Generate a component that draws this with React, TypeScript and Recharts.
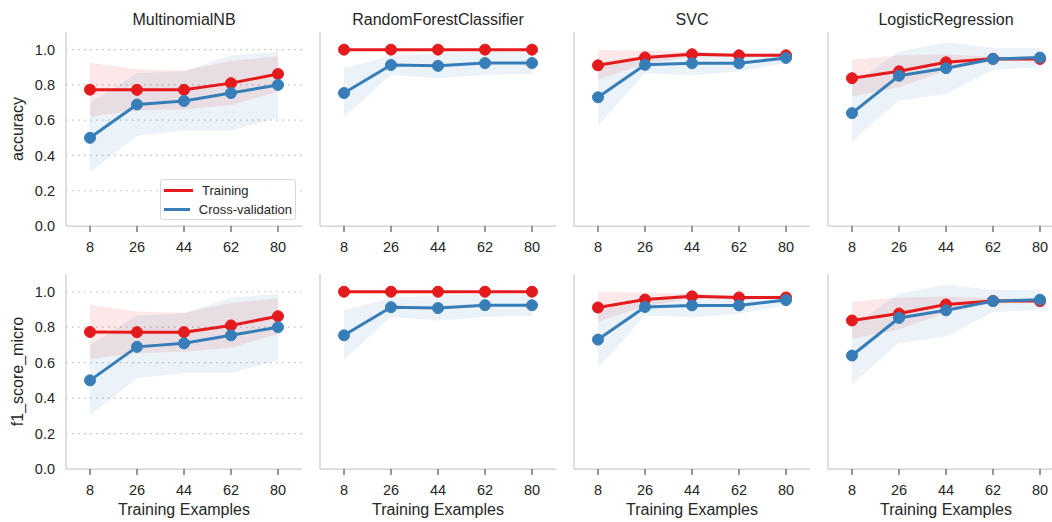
import { ComposedChart, Area, Line, XAxis, YAxis, CartesianGrid, Legend } from 'recharts';

const trainingSizes = ['8', '26', '44', '62', '80'];
const models = ['MultinomialNB', 'RandomForestClassifier', 'SVC', 'LogisticRegression'];
const metrics = ['accuracy', 'f1_score_micro'];
const yTicks = [0, 0.2, 0.4, 0.6, 0.8, 1.0];
const seriesNames = ['Training', 'Cross-validation'];

// MultinomialNB
const nbTrainMean = [0.773, 0.772, 0.772, 0.81, 0.862];
const nbTrainLow = [0.62, 0.655, 0.662, 0.684, 0.762];
const nbTrainHigh = [0.926, 0.889, 0.882, 0.936, 0.962];
const nbCvMean = [0.5, 0.689, 0.709, 0.754, 0.8];
const nbCvLow = [0.305, 0.512, 0.541, 0.541, 0.613];
const nbCvHigh = [0.697, 0.866, 0.877, 0.967, 0.987];

// RandomForestClassifier
const rfTrainMean = [1.0, 1.0, 1.0, 1.0, 1.0];
const rfTrainLow = [1.0, 1.0, 1.0, 1.0, 1.0];
const rfTrainHigh = [1.0, 1.0, 1.0, 1.0, 1.0];
const rfCvMean = [0.754, 0.913, 0.908, 0.924, 0.924];
const rfCvLow = [0.616, 0.858, 0.838, 0.858, 0.862];
const rfCvHigh = [0.894, 0.966, 0.978, 0.989, 0.986];

// SVC
const svcTrainMean = [0.911, 0.956, 0.974, 0.968, 0.968];
const svcTrainLow = [0.83, 0.918, 0.96, 0.958, 0.96];
const svcTrainHigh = [0.998, 0.995, 0.988, 0.978, 0.976];
const svcCvMean = [0.73, 0.914, 0.923, 0.923, 0.953];
const svcCvLow = [0.568, 0.866, 0.855, 0.876, 0.924];
const svcCvHigh = [0.893, 0.962, 0.99, 0.97, 0.982];

// LogisticRegression
const lrTrainMean = [0.838, 0.877, 0.928, 0.948, 0.947];
const lrTrainLow = [0.735, 0.787, 0.882, 0.936, 0.936];
const lrTrainHigh = [0.942, 0.967, 0.973, 0.96, 0.958];
const lrCvMean = [0.64, 0.852, 0.895, 0.947, 0.955];
const lrCvLow = [0.478, 0.712, 0.748, 0.884, 0.9];
const lrCvHigh = [0.802, 0.99, 1.04, 1.01, 1.008];

const scores: Record<string, number[][]> = {
  MultinomialNB: [nbTrainMean, nbTrainLow, nbTrainHigh, nbCvMean, nbCvLow, nbCvHigh],
  RandomForestClassifier: [rfTrainMean, rfTrainLow, rfTrainHigh, rfCvMean, rfCvLow, rfCvHigh],
  SVC: [svcTrainMean, svcTrainLow, svcTrainHigh, svcCvMean, svcCvLow, svcCvHigh],
  LogisticRegression: [lrTrainMean, lrTrainLow, lrTrainHigh, lrCvMean, lrCvLow, lrCvHigh],
};

const RED = '#e41a1c';
const BLUE = '#377eb8';
const TEXT = '#262626';
const SPINE = '#cccccc';

// f1_score_micro reads the same as accuracy in every panel
const buildRows = (model: string) => {
  const [tm, tl, th, cm, cl, ch] = scores[model];
  return trainingSizes.map((n, i) => ({
    n,
    train: tm[i],
    cv: cm[i],
    trainBand: [tl[i], th[i]],
    cvBand: [cl[i], ch[i]],
  }));
};

const LegendBox = (props: any) => {
  const items = (props.payload || [])
    .filter((p: any) => p.type !== 'none')
    .sort((a: any, b: any) => seriesNames.indexOf(a.value) - seriesNames.indexOf(b.value));
  return (
    <div
      style={{
        width: 136,
        height: 41,
        boxSizing: 'border-box',
        background: 'rgba(255,255,255,0.85)',
        border: '1px solid #d8d8d8',
        borderRadius: 3,
        padding: '1px 3px',
        whiteSpace: 'nowrap',
      }}
    >
      {items.map((p: any) => (
        <div key={p.value} style={{ display: 'flex', alignItems: 'center', height: 19 }}>
          <span style={{ display: 'inline-block', width: 29, height: 3, background: p.color, marginRight: 9 }} />
          <span style={{ fontSize: 13, color: TEXT }}>{p.value}</span>
        </div>
      ))}
    </div>
  );
};

const Panel = ({ model, metric, row, col }: { model: string; metric: string; row: number; col: number }) => {
  const height = row === 0 ? 260 : 280;
  return (
    <div style={{ position: 'absolute', left: 254 * col, top: row === 0 ? 0 : 242 }}>
      <ComposedChart width={302} height={height} data={buildRows(model)} margin={{ top: 32, right: 0, left: 0, bottom: 0 }}>
        <CartesianGrid
          vertical={false}
          horizontalValues={[0.2, 0.4, 0.6, 0.8, 1.0]}
          stroke="#bdbdbd"
          strokeWidth={1.2}
          strokeDasharray="1.5 4.5"
        />
        <XAxis
          dataKey="n"
          height={row === 0 ? 34 : 53}
          interval={0}
          padding={{ left: 24, right: 24 }}
          axisLine={{ stroke: SPINE, strokeWidth: 1.25 }}
          tickLine={{ stroke: '#333333' }}
          tickSize={6}
          tickMargin={10}
          tick={{ fill: TEXT, fontSize: 14.5 }}
          label={
            row === 1
              ? { value: 'Training Examples', position: 'insideBottom', offset: 7, style: { fill: TEXT, fontSize: 16 } }
              : undefined
          }
        />
        <YAxis
          width={66}
          domain={[0, 1.1]}
          ticks={yTicks}
          tickFormatter={(v: number) => v.toFixed(1)}
          tick={col === 0 ? { fill: TEXT, fontSize: 14.5 } : false}
          tickLine={false}
          tickSize={0}
          tickMargin={11}
          axisLine={{ stroke: SPINE, strokeWidth: 1.25 }}
          label={
            col === 0
              ? {
                  value: metric,
                  angle: -90,
                  position: 'insideLeft',
                  offset: 17,
                  style: { textAnchor: 'middle', fill: TEXT, fontSize: 16 },
                }
              : undefined
          }
        />
        <Area
          dataKey="trainBand"
          stroke="none"
          fill={RED}
          fillOpacity={0.1}
          legendType="none"
          dot={false}
          activeDot={false}
          isAnimationActive={false}
        />
        <Area
          dataKey="cvBand"
          stroke="none"
          fill={BLUE}
          fillOpacity={0.1}
          legendType="none"
          dot={false}
          activeDot={false}
          isAnimationActive={false}
        />
        <Line
          dataKey="train"
          name="Training"
          stroke={RED}
          strokeWidth={3}
          dot={{ r: 5.5, fill: RED, stroke: RED, strokeWidth: 1 }}
          activeDot={false}
          isAnimationActive={false}
        />
        <Line
          dataKey="cv"
          name="Cross-validation"
          stroke={BLUE}
          strokeWidth={3}
          dot={{ r: 5.5, fill: BLUE, stroke: BLUE, strokeWidth: 1 }}
          activeDot={false}
          isAnimationActive={false}
        />
        {row === 0 && col === 0 && (
          <Legend
            layout="vertical"
            align="center"
            verticalAlign="middle"
            wrapperStyle={{ left: 160, top: 179, width: 'auto' }}
            content={LegendBox}
          />
        )}
      </ComposedChart>
    </div>
  );
};

export default function App() {
  return (
    <div
      style={{
        position: 'absolute',
        left: 0,
        top: 0,
        width: 1052,
        height: 522,
        overflow: 'hidden',
        background: '#ffffff',
        fontFamily: '"Liberation Sans", Arial, sans-serif',
      }}
    >
      {models.map((m, col) => (
        <div
          key={m}
          style={{
            position: 'absolute',
            left: 254 * col + 66,
            top: 10,
            width: 236,
            height: 20,
            lineHeight: '20px',
            textAlign: 'center',
            fontSize: 16,
            color: TEXT,
          }}
        >
          {m}
        </div>
      ))}
      {metrics.map((metric, row) =>
        models.map((m, col) => <Panel key={metric + m} model={m} metric={metric} row={row} col={col} />)
      )}
    </div>
  );
}
